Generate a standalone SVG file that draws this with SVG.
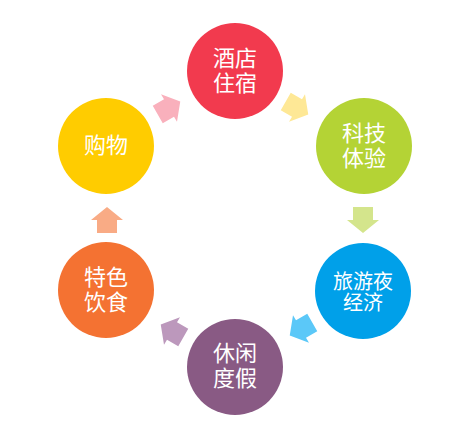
<svg xmlns="http://www.w3.org/2000/svg" width="465" height="438" viewBox="0 0 465 438">
<defs>
<style>
.t{font-family:"Noto Sans CJK SC","Noto Sans",sans-serif;fill:#fff;text-anchor:middle;font-size:22px}
.s{font-size:20px}
</style>
<polygon id="arr" points="-13,-10 0,-10 0,-16 13,0 0,16 0,10 -13,10"/>
</defs>
<rect width="465" height="438" fill="#fff"/>
<g id="connectors">
<use href="#arr" fill="#F9B0BC" transform="translate(169,108) rotate(-30)"/>
<use href="#arr" fill="#FEE896" transform="translate(297,108) rotate(30)"/>
<use href="#arr" fill="#D4E58C" transform="translate(363,220) rotate(90)"/>
<use href="#arr" fill="#5BC8F8" transform="translate(301,329) rotate(150)"/>
<use href="#arr" fill="#BC98BC" transform="translate(172,331) rotate(210)"/>
<use href="#arr" fill="#F9AB85" transform="translate(107,220) rotate(-90)"/>
</g>
<g id="n1"><circle cx="235" cy="71" r="48" fill="#F23A4E"/><text class="t"><tspan x="235" y="66">酒店</tspan><tspan x="235" y="91">住宿</tspan></text></g>
<g id="n2"><circle cx="364" cy="146" r="48" fill="#B4D335"/><text class="t"><tspan x="364" y="141">科技</tspan><tspan x="364" y="166">体验</tspan></text></g>
<g id="n3"><circle cx="363" cy="291" r="48" fill="#00A0E9"/><text class="t s"><tspan x="363" y="289">旅游夜</tspan><tspan x="363" y="310">经济</tspan></text></g>
<g id="n4"><circle cx="235" cy="367" r="48" fill="#895A84"/><text class="t"><tspan x="235" y="361">休闲</tspan><tspan x="235" y="386">度假</tspan></text></g>
<g id="n5"><circle cx="106" cy="290" r="48" fill="#F47232"/><text class="t"><tspan x="106" y="285">特色</tspan><tspan x="106" y="310">饮食</tspan></text></g>
<g id="n6"><circle cx="106" cy="146" r="48" fill="#FFCC00"/><text class="t" x="106" y="153">购物</text></g>
</svg>
